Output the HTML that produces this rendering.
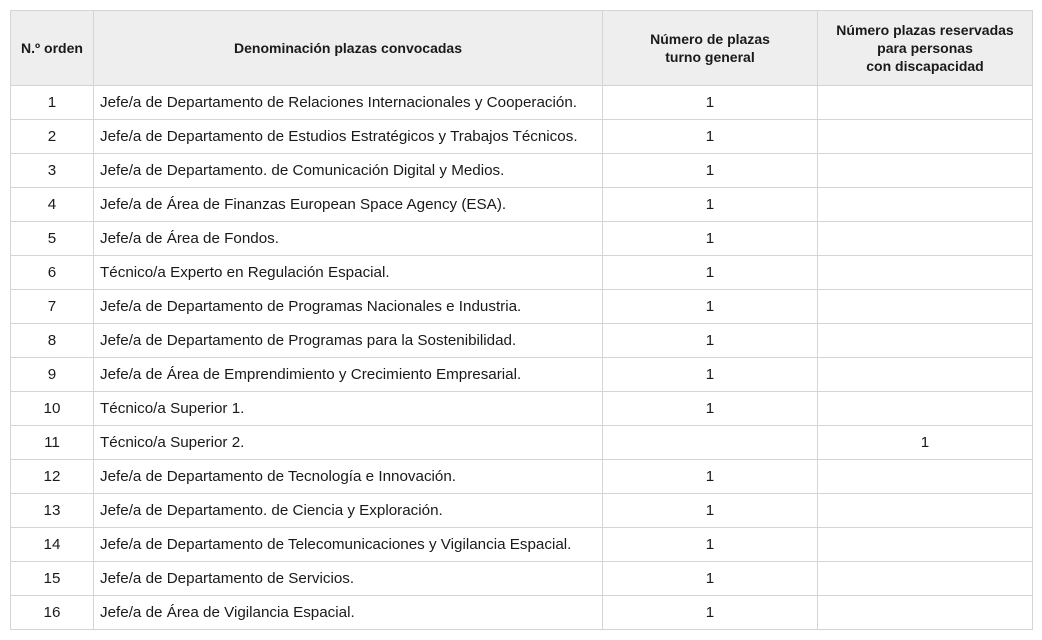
<!DOCTYPE html>
<html><head><meta charset="utf-8"><style>
body{margin:0;background:#fff;font-family:"Liberation Sans",sans-serif;color:#1a1a1a;}
table{position:absolute;left:10px;top:10px;border-collapse:collapse;table-layout:fixed;width:1022px;}
td,th{border:1px solid #d4d4d4;padding:0;font-size:15.2px;}
th{background:#eeeeee;font-size:14px;font-weight:bold;height:74px;text-align:center;line-height:18px;}
td{height:33px;}
td.c{text-align:center;}
td.l{padding-left:6px;}
</style></head><body>
<table>
<colgroup><col style="width:83px"><col style="width:509px"><col style="width:215px"><col style="width:215px"></colgroup>
<tr><th>N.º orden</th><th>Denominación plazas convocadas</th><th>Número de plazas<br>turno general</th><th>Número plazas reservadas<br>para personas<br>con discapacidad</th></tr>
<tr><td class="c">1</td><td class="l">Jefe/a de Departamento de Relaciones Internacionales y Cooperación.</td><td class="c">1</td><td></td></tr>
<tr><td class="c">2</td><td class="l">Jefe/a de Departamento de Estudios Estratégicos y Trabajos Técnicos.</td><td class="c">1</td><td></td></tr>
<tr><td class="c">3</td><td class="l">Jefe/a de Departamento. de Comunicación Digital y Medios.</td><td class="c">1</td><td></td></tr>
<tr><td class="c">4</td><td class="l">Jefe/a de Área de Finanzas European Space Agency (ESA).</td><td class="c">1</td><td></td></tr>
<tr><td class="c">5</td><td class="l">Jefe/a de Área de Fondos.</td><td class="c">1</td><td></td></tr>
<tr><td class="c">6</td><td class="l">Técnico/a Experto en Regulación Espacial.</td><td class="c">1</td><td></td></tr>
<tr><td class="c">7</td><td class="l">Jefe/a de Departamento de Programas Nacionales e Industria.</td><td class="c">1</td><td></td></tr>
<tr><td class="c">8</td><td class="l">Jefe/a de Departamento de Programas para la Sostenibilidad.</td><td class="c">1</td><td></td></tr>
<tr><td class="c">9</td><td class="l">Jefe/a de Área de Emprendimiento y Crecimiento Empresarial.</td><td class="c">1</td><td></td></tr>
<tr><td class="c">10</td><td class="l">Técnico/a Superior 1.</td><td class="c">1</td><td></td></tr>
<tr><td class="c">11</td><td class="l">Técnico/a Superior 2.</td><td></td><td class="c">1</td></tr>
<tr><td class="c">12</td><td class="l">Jefe/a de Departamento de Tecnología e Innovación.</td><td class="c">1</td><td></td></tr>
<tr><td class="c">13</td><td class="l">Jefe/a de Departamento. de Ciencia y Exploración.</td><td class="c">1</td><td></td></tr>
<tr><td class="c">14</td><td class="l">Jefe/a de Departamento de Telecomunicaciones y Vigilancia Espacial.</td><td class="c">1</td><td></td></tr>
<tr><td class="c">15</td><td class="l">Jefe/a de Departamento de Servicios.</td><td class="c">1</td><td></td></tr>
<tr><td class="c">16</td><td class="l">Jefe/a de Área de Vigilancia Espacial.</td><td class="c">1</td><td></td></tr>
</table>
</body></html>
